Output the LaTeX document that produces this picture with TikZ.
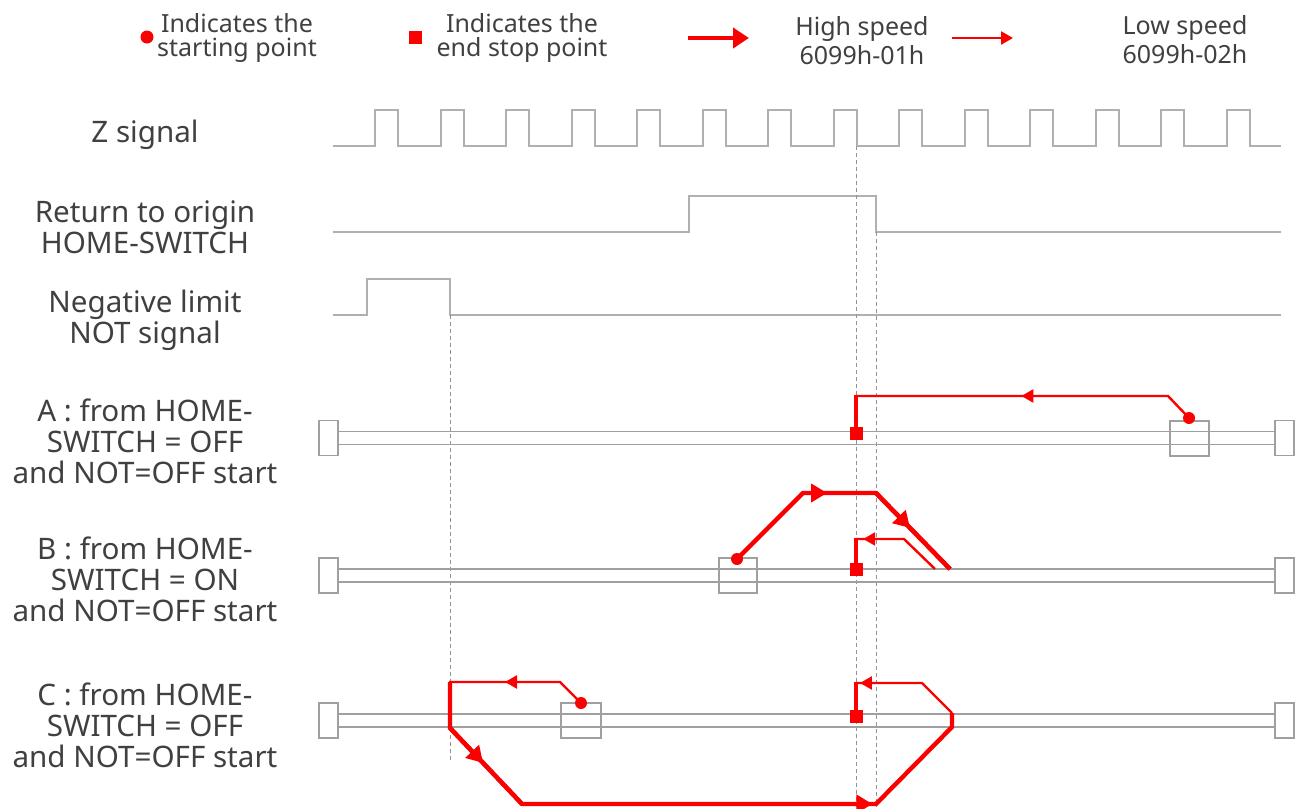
\documentclass[tikz,border=0pt]{standalone}
\usepackage{fontspec}
\setmainfont{Noto Sans}
\usetikzlibrary{arrows.meta,decorations.markings}

\definecolor{sig}{HTML}{B0B0B0}
\definecolor{rail}{HTML}{A0A0A0}
\definecolor{txt}{HTML}{404040}
\definecolor{hot}{HTML}{FA0000}

\begin{document}
\begin{tikzpicture}[x=0.5pt,y=-0.5pt,
  lbl/.style={align=center,text=txt,font=\fontsize{14.8}{15.5}\selectfont},
  legA/.style={align=center,text=txt,font=\fontsize{12.5}{11.6}\selectfont},
  legB/.style={align=center,text=txt,font=\fontsize{12.5}{14.5}\selectfont},
  sigline/.style={draw=sig,line width=1pt},
  guide/.style={draw=gray!85,line width=0.5pt,dash pattern=on 2pt off 1.5pt},
  railbox/.style={draw=rail,line width=0.8pt},
  hi/.style={color=hot,line width=2.2pt},
  lo/.style={color=hot,line width=1.2pt},
  startdot/.style={circle,fill=hot,inner sep=0pt,minimum size=6pt},
  stopsq/.style={fill=hot,inner sep=0pt,minimum size=6.5pt},
  himark/.style={postaction={decorate,decoration={markings,
    mark=at position #1 with {\arrow{Triangle[length=8pt,width=9pt]}}}}},
  lomark/.style={postaction={decorate,decoration={markings,
    mark=at position #1 with {\arrow{Triangle[length=6pt,width=6.5pt]}}}}}]
  \useasboundingbox (0,0) rectangle (1298,809);

  % legend
  \node[startdot,minimum size=6.5pt] (legdot) at (147,37) {};
  \node[legA] (legdottxt) at (237,38) {Indicates the\\starting point};
  \node[stopsq] (legsq) at (415,37) {};
  \node[legA] (legsqtxt) at (522,38) {Indicates the\\end stop point};
  \coordinate (leghi1) at (688,38); \coordinate (leghi2) at (749,38);
  \draw[hi,-{Triangle[length=8pt,width=10pt]}] (leghi1) -- (leghi2);
  \node[legB] (leghitxt) at (862,41) {High speed\\6099h-01h};
  \coordinate (leglo1) at (952,38); \coordinate (leglo2) at (1013,38);
  \draw[lo,-{Triangle[length=6pt,width=6.5pt]}] (leglo1) -- (leglo2);
  \node[legB] (leglotxt) at (1185,40) {Low speed\\6099h-02h};

  % signal names
  \node[lbl] (zname) at (145,135) {Z signal};
  \node[lbl] (homename) at (145,227) {Return to origin\\HOME-SWITCH};
  \node[lbl] (notname) at (145,320) {Negative limit\\NOT signal};
  \node[lbl] (rowA) at (145,441) {A : from HOME-\\SWITCH = OFF\\and NOT=OFF start};
  \node[lbl] (rowB) at (145,579) {B : from HOME-\\SWITCH = ON\\and NOT=OFF start};
  \node[lbl] (rowC) at (145,725) {C : from HOME-\\SWITCH = OFF\\and NOT=OFF start};

  % timing signals
  \draw[sigline] (333,146) \foreach \i in {0,...,13} {
      -- ({375+65.54*\i},146) -- ++(0,-36) -- ++(23,0) -- ++(0,36) } -- (1281,146);
  \draw[sigline] (333,232) -- (689,232) -- (689,196) -- (876,196) -- (876,232) -- (1281,232);
  \draw[sigline] (333,315) -- (367,315) -- (367,279) -- (450,279) -- (450,315) -- (1281,315);

  % guide lines
  \draw[guide] (450,315) -- (450,760);
  \draw[guide] (856,146) -- (856,807);
  \draw[guide] (876,232) -- (876,807);

  % rails with end boxes
  \foreach \y in {438,575.5,720.5} {
    \draw[railbox] (338,\y-6.5) -- (1275,\y-6.5);
    \draw[railbox] (338,\y+6.5) -- (1275,\y+6.5);
    \draw[railbox] (319,\y-17.5) rectangle (338,\y+17.5);
    \draw[railbox] (1275,\y-17.5) rectangle (1294,\y+17.5);
  }
  % start boxes
  \draw[railbox] (1170,421) rectangle (1209,456);
  \draw[railbox] (719,558) rectangle (757,593);
  \draw[railbox] (561,703) rectangle (601,738);

  % A
  \node[startdot] (Adot) at (1189,418) {};
  \node[stopsq] (Asq) at (856,433) {};
  \draw[lo] (Adot.center) -- (1168,396) -- (856,396);
  \draw[lo,lomark=0.47] (1168,396) -- (856,396);
  \draw[hi] (856,395) -- (Asq.center);

  % B
  \node[startdot] (Bdot) at (737,559) {};
  \node[stopsq] (Bsq) at (856,569) {};
  \draw[hi] (Bdot.center) -- (803,493) -- (876,493) -- (950,569);
  \draw[hi,himark=0.33] (803,493) -- (876,493);
  \draw[hi,himark=0.46] (876,493) -- (950,569);
  \draw[lo] (935,569) -- (904,539) -- (856,539);
  \draw[lo,lomark=0.85] (904,539) -- (856,539);
  \draw[hi] (856,538) -- (Bsq.center);

  % C
  \node[startdot] (Cdot) at (581,703) {};
  \node[stopsq] (Csq) at (856,716) {};
  \draw[lo] (Cdot.center) -- (560,682) -- (449,682);
  \draw[lo,lomark=0.5] (560,682) -- (450,682);
  \draw[hi] (450,682) -- (450,728) -- (522,804) -- (876,804) -- (952,727) -- (952,713);
  \draw[hi,himark=0.46] (450,728) -- (522,804);
  \draw[hi,himark=0.99] (522,804) -- (876,804);
  \draw[lo] (952,713) -- (922,683) -- (856,683);
  \draw[lo,lomark=0.94] (922,683) -- (856,683);
  \draw[hi] (856,682) -- (Csq.center);
\end{tikzpicture}
\end{document}
